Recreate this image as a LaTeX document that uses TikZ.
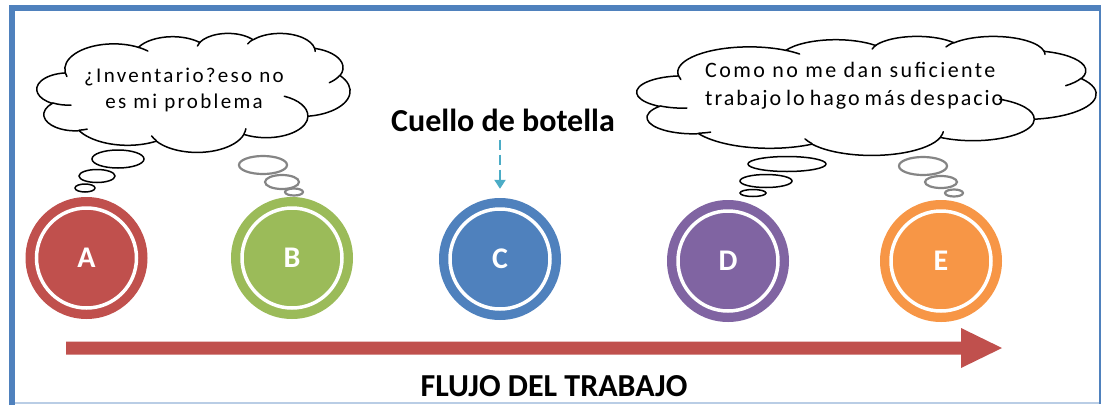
\documentclass[tikz,border=0pt]{standalone}
\usepackage{fontspec}
\setmainfont{Carlito}
\newfontfamily\cloudfont[LetterSpace=11]{Carlito}
\newfontfamily\cloudfonttight[LetterSpace=9]{Carlito}
\usetikzlibrary{arrows.meta}
\definecolor{cA}{HTML}{C0504D}
\definecolor{cB}{HTML}{9BBB59}
\definecolor{cC}{HTML}{4F81BD}
\definecolor{cD}{HTML}{8064A2}
\definecolor{cE}{HTML}{F79646}
\definecolor{frame}{HTML}{4F81BD}
\definecolor{framelight}{HTML}{B9CDE5}
\definecolor{teal}{HTML}{4BACC6}
\definecolor{thoughtgray}{HTML}{858585}
% one arc of the cloud outline: wR, hR, start angle, sweep (visual angles, degrees)
\newcommand{\carc}[4]{arc[x radius=#1/432, y radius=#2/432,
  start angle={atan2(#1*sin(#3),#2*cos(#3))},
  delta angle={mod(atan2(#1*sin(#3+#4),#2*cos(#3+#4))-atan2(#1*sin(#3),#2*cos(#3))+720,360)}]}
\newcommand{\officecloud}[4]{%
  \begin{scope}[shift={(#1,#2)}, x=#3pt/100, y=-#4pt/100]
  \filldraw[cloudline, fill=white] (9.0278,33.2639)
    \carc{6753}{9190}{-190.48748}{123.78053}
    \carc{5333}{7267}{-144.10238}{89.94523}
    \carc{4365}{5945}{-145.80792}{99.72302}
    \carc{4857}{6595}{-130.98607}{117.24173}
    \carc{5333}{7273}{-78.70888}{109.02692}
    \carc{6775}{9220}{-46.26725}{130.269}
    \carc{5785}{7867}{0.62502}{114.03333}
    \carc{6752}{9215}{22.4516}{115.17255}
    \carc{7720}{10543}{66.24263}{75.71102}
    \carc{4360}{5918}{-274.94208}{146.73557}
    \carc{4345}{5945}{-246.8285}{152.51885} -- cycle;
  \draw[cloudline]
    (10.8634,60.5949) \carc{4345}{5945}{86.742}{26.4295}
    (16.0370,80.7847) \carc{4360}{5918}{73.61047}{11.44747}
    (38.1435,90.4861) \carc{6752}{9215}{137.62415}{14.0811}
    (66.7292,80.4421) \carc{6752}{9215}{6.45327}{15.99835}
    (79.0023,53.1343) \carc{5785}{7867}{-70.29235}{70.91737}
    (96.7546,35.5417) \carc{5333}{7273}{30.31803}{27.7515}
    (88.7130,12.5602) \carc{4857}{6595}{-13.74433}{14.8589}
    (67.3102,9.1481) \carc{4857}{6595}{-149.18145}{18.19537}
    (51.2523,10.9259) \carc{4365}{5945}{-163.49427}{17.68635}
    (32.4074,12.0185) \carc{6753}{9190}{-66.70695}{12.31935}
    (9.5532,36.5486) \carc{6753}{9190}{157.65435}{11.85817};
  \end{scope}}
\tikzset{
  ring/.style={circle, minimum size=122pt, inner sep=0pt, fill=#1, text=white,
    font=\fontsize{30}{30}\selectfont\bfseries},
  cloudline/.style={draw=black, line width=1.5pt, line cap=round, line join=round},
  cloudtext/.style={font=\cloudfont\fontsize{21}{26}\selectfont, align=center, inner sep=0pt},
  thoughtblack/.style={draw=black, line width=1.5pt},
  thoughtgrey/.style={draw=thoughtgray, line width=2.2pt},
  bigtitle/.style={font=\fontsize{32}{32}\selectfont\bfseries, inner sep=0pt},
}
\begin{document}
\begin{tikzpicture}[x=1pt,y=-1pt]
\useasboundingbox (0,0) rectangle (1101,405);
\fill[white] (0,0) rectangle (1101,405);
% frame
\draw[framelight, line width=1.5pt] (12,403) -- (1100,403);
\draw[frame, line width=1.8pt] (1100,8) -- (1100,404);
\draw[frame, line width=6pt] (12,405) -- (12,8) -- (1101,8);

% clouds
\officecloud{37}{33}{313}{119}
\node[cloudtext] (textL) at (184,90) {¿Inventario?eso no\\es mi problema};
\officecloud{637}{36}{459}{119}
\node[cloudtext, align=left, anchor=west, font=\cloudfont\fontsize{22}{28}\selectfont] (textR) at (705,86)
  {Como no me dan suficiente\\{\cloudfonttight\spaceskip=5pt trabajo lo hago más despacio}};

% thought bubbles
\draw[thoughtblack] (118,159) ellipse[x radius=26, y radius=9];
\draw[thoughtblack] (97,176) ellipse[x radius=18, y radius=6.5];
\draw[thoughtblack] (85,188) ellipse[x radius=10, y radius=4];
\draw[thoughtgrey] (263,165) ellipse[x radius=24, y radius=9];
\draw[thoughtgrey] (282,182) ellipse[x radius=17, y radius=7];
\draw[thoughtgrey] (294,192) ellipse[x radius=9, y radius=3.5];
\draw[thoughtblack] (787,164) ellipse[x radius=39, y radius=7.5];
\draw[thoughtblack] (766,181) ellipse[x radius=26, y radius=6.5];
\draw[thoughtblack] (753,193) ellipse[x radius=13, y radius=3.5];
\draw[thoughtgrey] (923,166) ellipse[x radius=24, y radius=9];
\draw[thoughtgrey] (941,182) ellipse[x radius=16, y radius=6];
\draw[thoughtgrey] (954,193) ellipse[x radius=9, y radius=3.5];

% stations
\node[ring=cA] (A) at (86.5,258) {\raisebox{-5pt}{A}};
\node[ring=cB] (B) at (292,258) {\raisebox{-5pt}{B}};
\node[ring=cC] (C) at (500,259) {\raisebox{-5pt}{C}};
\node[ring=cD] (D) at (728,261) {\raisebox{-6pt}{D}};
\node[ring=cE] (E) at (941,261) {\raisebox{-6pt}{E}};
\foreach \n in {A,B,C,D,E}
  \draw[white, line width=3.5pt] (\n.center) circle[radius=50];

% bottleneck
\node[bigtitle] (cuello) at (503,120) {Cuello de botella};
\draw[teal, line width=2.5pt, dash pattern=on 10pt off 5pt,
  -{Triangle[length=9pt,width=11pt]}, shorten <=8pt, shorten >=9pt] (cuello.south -| C.north) -- (C.north);

% flow arrow
\coordinate (fs) at (66,348);
\coordinate (fe) at (1002,348);
\fill[cA] (fs) ++(0,-6.5) -- (961,341.5) -- (961,328) -- (fe) -- (961,368) -- (961,354.5) -- (66,354.5) -- cycle;
\node[bigtitle] (flujo) at (554,386) {FLUJO DEL TRABAJO};
\end{tikzpicture}
\end{document}
